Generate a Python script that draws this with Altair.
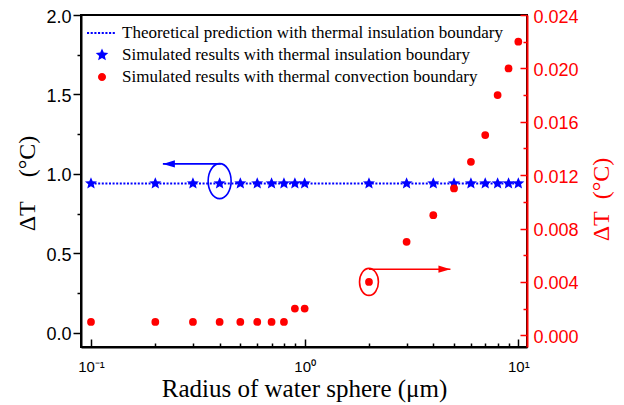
import math
import altair as alt
import pandas as pd

# ---------------- data ----------------
radius = [0.1, 0.2, 0.3, 0.4, 0.5, 0.6, 0.7, 0.8, 0.9, 1.0, 2, 3, 4, 5, 6, 7, 8, 9, 10]
dT_insulation = [0.94, 0.94, 0.94, 0.94, 0.94, 0.94, 0.94, 0.94, 0.94, 0.94,
                 0.94, 0.94, 0.94, 0.94, 0.94, 0.94, 0.94, 0.94, 0.94]
dT_convection = [0.001, 0.001, 0.001, 0.001, 0.001, 0.001, 0.001, 0.001, 0.002, 0.002,
                 0.004, 0.007, 0.009, 0.011, 0.013, 0.015, 0.018, 0.020, 0.022]
theory_radius = [0.1, 10]
theory_dT = [0.94, 0.94]

legend_labels = [
    "Theoretical prediction with thermal insulation boundary",
    "Simulated results with thermal insulation boundary",
    "Simulated results with thermal convection boundary",
]

x_major_ticks = [0.1, 1, 10]
x_minor_ticks = [0.2, 0.3, 0.4, 0.5, 0.6, 0.7, 0.8, 0.9, 2, 3, 4, 5, 6, 7, 8, 9]
x_tick_labels = {"0.1": "10\u207b\u00b9", "1": "10\u2070", "10": "10\u00b9"}
left_major_ticks = [0, 0.5, 1.0, 1.5, 2.0]
left_minor_ticks = [0.25, 0.75, 1.25, 1.75]
right_major_ticks = [0, 0.004, 0.008, 0.012, 0.016, 0.020, 0.024]
right_minor_ticks = [0.002, 0.006, 0.010, 0.014, 0.018, 0.022]

# annotations (data coordinates)
blue_mark_x = [0.4]
blue_mark_y = [0.955]
blue_arrow_from = [0.405]
blue_arrow_to = [0.217]
blue_arrow_y = [1.063]
red_mark_x = [2.0]
red_mark_y = [0.0040]
red_arrow_from = [2.0]
red_arrow_to = [4.81]
red_arrow_y = [0.00495]

BLUE = "#0000ff"
RED = "#ff0000"
SERIF = "Liberation Serif"
SANS = "Liberation Sans"
NBSP = "\u00a0"


# ---------------- symbol shapes ----------------
def star_path(R, r):
    pts = []
    for k in range(10):
        ang = math.radians(-90 + 36 * k)
        rad = R if k % 2 == 0 else r
        pts.append(f"{rad * math.cos(ang):.3f},{rad * math.sin(ang):.3f}")
    return "M" + "L".join(pts) + "Z"


def ellipse_path(rx, ry):
    return (f"M0,{-ry} A{rx},{ry} 0 1,1 0,{ry} A{rx},{ry} 0 1,1 0,{-ry} Z")


def circle_path(r):
    return f"M{r},0 A{r},{r} 0 1,1 {-r},0 A{r},{r} 0 1,1 {r},0 Z"


def dots_path(x0, x1, step, w, h):
    parts = []
    x = x0
    while x <= x1 + 1e-9:
        parts.append(f"M{x:.3f},{-h/2:.3f}h{w:.3f}v{h:.3f}h{-w:.3f}z")
        x += step
    return "".join(parts)


STAR = star_path(1.0, 0.45)
LEG_STAR = star_path(0.44, 0.2)
LEG_CIRCLE = circle_path(0.27)
LEG_LINE = dots_path(-1.0, 0.72, 0.245, 0.14, 0.14)
ELL_BLUE = ellipse_path(0.657, 1.0)
ELL_RED = ellipse_path(0.70, 1.0)
HEAD_LEFT = "M0,0 L2,-0.6 L2,0.6 Z"
HEAD_RIGHT = "M0,0 L-2,-0.6 L-2,0.6 Z"

# ---------------- frames ----------------
df_ins = pd.DataFrame({"r": radius, "dT": dT_insulation})
df_conv = pd.DataFrame({"r": radius, "dT": dT_convection})
df_theory = pd.DataFrame({"r": theory_radius, "dT": theory_dT})
df_bmark = pd.DataFrame({"r": blue_mark_x, "dT": blue_mark_y})
df_barrow = pd.DataFrame({"r": blue_arrow_from, "r2": blue_arrow_to, "dT": blue_arrow_y})
df_rmark = pd.DataFrame({"r": red_mark_x, "dT": red_mark_y})
df_rarrow = pd.DataFrame({"r": red_arrow_from, "r2": red_arrow_to, "dT": red_arrow_y})
df_legend = pd.DataFrame({"series": legend_labels})

xscale = alt.Scale(type="log", domain=[0.0898, 10.98], nice=False)
lscale = alt.Scale(domain=[-0.089, 2.0], nice=False, zero=False)
rscale = alt.Scale(domain=[-0.00088, 0.024], nice=False, zero=False)

common = dict(grid=False, labelOverlap=False, labelFlush=False, tickWidth=1.5, domainWidth=2)

x_label_expr = " : ".join(
    f"abs(datum.value-{k})<1e-6 ? '{v}'" for k, v in x_tick_labels.items()
) + " : ''"

x_axis = alt.Axis(
    orient="bottom", values=x_major_ticks, labelExpr=x_label_expr,
    tickSize={"expr": "-8"}, tickColor="black", domainColor="black",
    labelFont=SANS, labelFontSize=15, labelColor="black", labelPadding=20,
    title="Radius of water sphere (\u03bcm)",
    titleFont=SERIF, titleFontSize=25, titleFontWeight="normal", titleColor="black",
    titleBaseline="alphabetic", titleY=49, **common,
)
x_minor_axis = alt.Axis(
    orient="bottom", values=x_minor_ticks, labels=False, domain=False, title=None,
    tickSize={"expr": "-4"}, tickColor="black", **common,
)

left_axis = alt.Axis(
    orient="left", values=left_major_ticks, format=".1f",
    tickSize=8, tickColor="black", domainColor="black",
    labelFont=SANS, labelFontSize=18, labelColor="black", labelPadding=2, labelOffset=2,
    title="\u0394T" + NBSP * 4 + "(\u00b0C)",
    titleFont=SERIF, titleFontSize=24, titleFontWeight="normal", titleColor="black",
    titleAngle=270, titleBaseline="middle", titleX=-54, titleY=168, **common,
)
left_minor_axis = alt.Axis(
    orient="left", values=left_minor_ticks, labels=False, domain=False, title=None,
    tickSize=4, tickColor="black", **common,
)

right_axis = alt.Axis(
    orient="right", values=right_major_ticks, format=".3f",
    tickSize={"expr": "-7"}, tickColor=RED, domainColor=RED,
    labelFont=SANS, labelFontSize=18, labelColor=RED, labelPadding=13, labelOffset=2,
    title="\u0394T" + NBSP * 2 + "(\u00b0C)",
    titleFont=SERIF, titleFontSize=24, titleFontWeight="normal", titleColor=RED,
    titleAngle=270, titleBaseline="middle", titleX=74, titleY=184, **common,
)
right_minor_axis = alt.Axis(
    orient="right", values=right_minor_ticks, labels=False, domain=False, title=None,
    tickSize={"expr": "-4"}, tickColor=RED, **common,
)

X_no = alt.X("r:Q", scale=xscale, axis=None)
X2 = alt.X2("r2")
YL_no = alt.Y("dT:Q", scale=lscale, axis=None)
YR_no = alt.Y("dT:Q", scale=rscale, axis=None)

# ---------------- left (insulation) ----------------
theory = alt.Chart(df_theory).mark_line(
    color=BLUE, strokeWidth=2, strokeDash=[2, 1.6]
).encode(x=alt.X("r:Q", scale=xscale, axis=x_axis),
         y=alt.Y("dT:Q", scale=lscale, axis=left_axis))

left_minor = alt.Chart(df_ins).mark_point(opacity=0, size=1).encode(
    x=alt.X("r:Q", scale=xscale, axis=x_minor_axis),
    y=alt.Y("dT:Q", scale=lscale, axis=left_minor_axis),
)

stars = alt.Chart(df_ins).mark_point(
    shape=STAR, size=160, filled=True, color=BLUE, opacity=1, strokeWidth=0
).encode(x=X_no, y=YL_no)

b_ell = alt.Chart(df_bmark).mark_point(
    shape=ELL_BLUE, size=1225, filled=False, color=BLUE, opacity=1, strokeWidth=1.6
).encode(x=X_no, y=YL_no)

b_rule = alt.Chart(df_barrow).mark_rule(color=BLUE, strokeWidth=1.6).encode(
    x=X_no, x2=X2, y=YL_no
)

b_head = alt.Chart(df_barrow).mark_point(
    shape=HEAD_LEFT, size=144, filled=True, color=BLUE, opacity=1, strokeWidth=0
).encode(x=alt.X("r2:Q", scale=xscale, axis=None), y=YL_no)

left_group = alt.layer(theory, left_minor, stars, b_ell, b_rule, b_head).resolve_axis(
    x="independent", y="independent"
)

# ---------------- right (convection) ----------------
dots = alt.Chart(df_conv).mark_point(
    shape="circle", size=60, filled=True, color=RED, opacity=1, strokeWidth=0
).encode(x=X_no, y=alt.Y("dT:Q", scale=rscale, axis=right_axis))

right_minor = alt.Chart(df_conv).mark_point(opacity=0, size=1).encode(
    x=X_no, y=alt.Y("dT:Q", scale=rscale, axis=right_minor_axis)
)

r_ell = alt.Chart(df_rmark).mark_point(
    shape=ELL_RED, size=729, filled=False, color=RED, opacity=1, strokeWidth=1.6
).encode(x=X_no, y=YR_no)

r_rule = alt.Chart(df_rarrow).mark_rule(color=RED, strokeWidth=1.6).encode(
    x=X_no, x2=X2, y=YR_no
)

r_head = alt.Chart(df_rarrow).mark_point(
    shape=HEAD_RIGHT, size=144, filled=True, color=RED, opacity=1, strokeWidth=0
).encode(x=alt.X("r2:Q", scale=xscale, axis=None), y=YR_no)

right_group = alt.layer(dots, right_minor, r_ell, r_rule, r_head).resolve_axis(
    y="independent"
)

# ---------------- legend ----------------
legend = alt.Legend(
    title=None, orient="none", legendX=6, legendY=7, padding=0,
    symbolSize=900, symbolStrokeWidth=0, clipHeight=22, rowPadding=0,
    labelFont=SERIF, labelFontSize=17, labelColor="black", labelLimit=0,
    labelOffset=5,
)
legend_layer = alt.Chart(df_legend).mark_point(
    filled=True, opacity=1, size=900, strokeWidth=0
).encode(
    color=alt.Color("series:N", scale=alt.Scale(domain=legend_labels, range=[BLUE, BLUE, RED]),
                    legend=legend),
    shape=alt.Shape("series:N", scale=alt.Scale(domain=legend_labels,
                                                range=[LEG_LINE, LEG_STAR, LEG_CIRCLE]),
                    legend=legend),
).transform_filter("datum.series == 'none'")

chart = alt.layer(left_group, right_group, legend_layer).resolve_scale(
    y="independent"
).resolve_axis(y="independent", x="independent").properties(
    width=446, height=332,
    autosize=alt.AutoSizeParams(type="none"),
    padding={"left": 73, "top": 7, "right": 88, "bottom": 56},
).configure_view(stroke="black", strokeWidth=2)

chart.save("out.html", embed_options={"renderer": "svg", "actions": False})
